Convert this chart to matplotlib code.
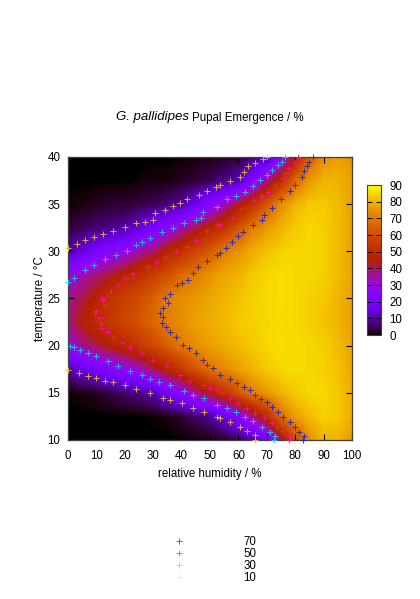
import numpy as np
import matplotlib
matplotlib.use("Agg")
import matplotlib.pyplot as plt

plt.rcParams['font.family'] = ['Liberation Sans', 'DejaVu Sans']

rh_values = list(range(0, 105, 5))
temp_values = [10, 12.5, 15, 17.5, 20, 22.5, 25, 27.5, 30, 32.5, 35, 37.5, 40]
emergence = [
    [0, 0, 0, 0, 0, 0, 0, 0, 0, 0.5, 1, 2, 4, 9, 20, 39, 60, 74, 80, 80, 76],
    [0, 0, 0, 0, 0, 0, 0.5, 1, 3, 6, 9, 16, 26, 37, 50, 68, 77, 81, 84, 83, 79],
    [0.5, 1, 2, 4, 6, 8, 11, 19, 27, 36, 44, 52, 62, 71, 76, 80, 83, 85, 85, 83, 79],
    [10, 15, 20, 24, 28, 32, 40, 47, 54, 62, 69, 73, 77, 80, 83, 85, 85.5, 85, 84, 82, 78],
    [30, 36, 41, 45, 49, 54, 59, 65, 70, 74, 77, 79, 81, 83, 85, 86, 85.5, 85, 84, 81, 78],
    [38, 45, 50, 54, 58, 62, 67, 71, 74, 77, 79, 81, 83, 84, 85, 85.5, 85, 84, 82, 80, 77],
    [36, 41, 47, 53, 57, 60, 65, 71, 74, 76, 78, 80, 82, 84, 85, 86, 85, 84, 83, 80, 77],
    [28, 34, 38, 42, 47, 51, 56, 61, 67, 71, 75, 78, 80, 83, 85, 86, 85, 85, 84, 81, 78],
    [11, 15, 21, 26, 29, 35, 39, 47, 52, 58, 64, 71, 75, 79, 82, 84, 85, 85, 84, 81, 77],
    [3, 5, 7, 8, 10, 15, 20, 27, 34, 41, 47, 53, 62, 71, 76, 80, 83, 85, 84, 81, 77],
    [1, 1, 2, 3, 3, 4, 5, 7, 10, 17, 25, 33, 43, 52, 63, 74, 80, 83, 83, 81, 77],
    [0, 0, 0, 0, 0, 0.5, 1, 1, 2, 3, 5, 8, 11, 23, 37, 50, 67, 76, 80, 80, 77],
    [0, 0, 0, 0, 0, 0, 0, 0, 0.5, 1, 1.5, 2, 3, 7, 10, 25, 46, 65, 74, 77, 75],
]

level70_rh = [82.6, 83, 81.5, 80, 78, 75.8, 74, 71.8, 70, 68, 66, 64, 62, 59.5, 57, 53.5, 51, 49, 47.6, 45, 42.5, 40.5, 38, 36, 34.5, 33, 33.5, 32.4, 33.5, 35.2, 34, 36, 38.3, 40, 42.3, 44, 45.8, 49, 52.4, 53.5, 55.5, 57.7, 60, 61.6, 65, 68.3, 69, 71.8, 75, 78, 80, 82.4, 83, 84, 85, 86.3]
level70_t = [10, 10.4, 10.9, 11.4, 11.9, 12.4, 13, 13.5, 14, 14.3, 14.8, 15.3, 15.6, 16, 16.5, 16.9, 17.6, 18, 18.5, 19.2, 19.7, 20.1, 20.9, 21.5, 22, 22.4, 23, 23.5, 24, 24.5, 25, 25.5, 26.4, 26.6, 27, 27.7, 28.3, 29, 29.6, 29.8, 30.4, 31, 31.6, 32, 32.8, 33.3, 33.8, 34.6, 35.5, 36.4, 37, 37.9, 38.5, 39, 39.5, 40]

level50_rh = [77.7, 78, 75.8, 73.5, 71.7, 69, 66, 63, 60, 57, 54, 52.4, 50, 47.6, 43, 39.4, 35, 30, 26, 22, 19, 16, 14, 12, 11.5, 11.3, 9.5, 10, 13, 12.3, 12, 15, 17.6, 20, 23, 27.7, 31, 34, 38, 42, 45, 49, 52.4, 53.5, 58, 61, 65, 68, 70.5, 73, 75.8, 76.5, 77.6, 80, 81]
level50_t = [10, 10.3, 11, 11.4, 11.8, 12.4, 12.9, 13.4, 13.9, 14.5, 15, 15.3, 15.5, 15.8, 16.3, 16.9, 17.8, 18.5, 19.2, 19.7, 20.3, 20.9, 21.4, 21.9, 22.4, 22.9, 23.5, 23.7, 24.3, 24.8, 25, 25.8, 26.4, 27.2, 27.6, 28.3, 28.9, 29.4, 30, 30.5, 31.2, 32.2, 32.8, 32.9, 33.5, 34.5, 35.4, 35.9, 36.3, 37, 37.8, 38.3, 38.8, 39.5, 40]

level30_rh = [72.6, 73, 71, 68.3, 65, 62.3, 59, 56, 52.4, 48, 44, 41, 36, 32, 29, 26, 22, 17.6, 14, 10, 7, 4.2, 2, 0.7, 0, 2, 6, 9, 13, 17, 20.6, 24, 26, 29, 33, 37, 41, 45, 47, 47.6, 52.4, 56, 59, 62.3, 65, 67.6, 70, 72, 74, 75.4, 76.5]
level30_t = [10, 10.4, 10.9, 11.4, 12, 12.4, 13, 13.4, 13.7, 14.4, 14.8, 15.2, 15.8, 16.2, 16.5, 16.9, 17.3, 17.8, 18.4, 18.9, 19.2, 19.5, 19.9, 20, 26.8, 27.2, 28, 28.6, 29.2, 29.6, 30, 30.7, 31, 31.4, 32, 32.5, 33, 33.3, 33.5, 34.2, 34.7, 35.5, 35.9, 36.3, 36.9, 37.6, 38.1, 38.6, 39.1, 39.5, 40]

level10_rh = [66, 66, 63, 60.5, 57, 53.5, 52.4, 48, 44, 40, 36, 33.5, 29, 24, 20, 16, 13, 10, 7, 4, 0, 0, 3, 6, 9, 12.4, 16, 20, 24, 27, 30, 30.6, 34, 37, 39.4, 42, 46, 49, 52, 53.5, 57, 60.5, 62, 63.5, 66, 68.6, 70]
level10_t = [10, 10.5, 11, 11.4, 11.9, 12.3, 12.4, 13, 13.4, 13.9, 14.2, 14.5, 15, 15.4, 15.8, 16.1, 16.3, 16.6, 16.8, 17.1, 17.4, 30.4, 30.8, 31.2, 31.5, 31.8, 32.2, 32.6, 33, 33.1, 33.3, 34.1, 34.4, 34.8, 35.1, 35.5, 36, 36.4, 36.8, 37, 37.5, 37.9, 38.4, 39, 39.4, 39.8, 40]

legend_labels = ['70', '50', '30', '10']
title_species = 'G. pallidipes'
title_rest = 'Pupal Emergence / %'

W, H = 420, 599
fig = plt.figure(figsize=(W / 100, H / 100), dpi=100)
ax = fig.add_axes([68 / W, 1 - 440 / H, 284 / W, 283 / H])

rh_step = rh_values[1] - rh_values[0]
t_step = temp_values[1] - temp_values[0]
ax.imshow(np.array(emergence), origin='lower', cmap='gnuplot', vmin=0, vmax=90,
          aspect='auto', interpolation='bilinear',
          extent=[rh_values[0] - rh_step / 2, rh_values[-1] + rh_step / 2,
                  temp_values[0] - t_step / 2, temp_values[-1] + t_step / 2])

series = [(level70_rh, level70_t, '#2020c8'),
          (level50_rh, level50_t, '#ff10a0'),
          (level30_rh, level30_t, '#20c8ff'),
          (level10_rh, level10_t, '#e8c828')]
handles = []
for (x, y, c), lab in zip(series, legend_labels):
    h, = ax.plot(x, y, ls='none', marker='+', ms=4.3, mew=0.75, color=c, alpha=0.85,
                 clip_on=False, label=lab, zorder=3)
    handles.append(h)

ax.set_xlim(0, 100)
ax.set_ylim(10, 40)
ax.set_xticks(range(0, 101, 10))
ax.set_yticks(range(10, 41, 5))
ax.tick_params(direction='in', top=True, right=True, length=4.5, width=0.8,
               labelsize=8.3, color='black')
ax.tick_params(axis='x', pad=7.5)
ax.tick_params(axis='y', pad=5.5)
for s in ax.spines.values():
    s.set_linewidth(0.9)
    s.set_color('#404040')
ax.set_xlabel('relative humidity / %', fontsize=8.3, labelpad=4)
ax.set_ylabel('temperature / °C', fontsize=8.3, labelpad=1)

fig.text(189 / W, 1 - 117 / H, title_species, style='italic', fontsize=9.5,
         ha='right', va='center')
fig.text(192 / W, 1 - 117.5 / H, title_rest, fontsize=8.3, ha='left', va='center')

cax = fig.add_axes([367 / W, 1 - 335 / H, 14 / W, 150 / H])
sm = plt.cm.ScalarMappable(norm=plt.Normalize(0, 90), cmap='gnuplot')
cb = fig.colorbar(sm, cax=cax, ticks=list(range(0, 91, 10)))
cb.ax.tick_params(direction='in', left=True, right=True, length=3.5, width=0.7,
                  labelsize=8.3, pad=6)
cb.outline.set_linewidth(0.8)
cb.outline.set_edgecolor('#404040')

legend_colors = ['#3030ff', '#ff20d0', '#20ffff', '#ffff20']
leg = fig.legend(handles=handles, labels=legend_labels, loc='upper left',
                 bbox_to_anchor=(172 / W, 1 - 536 / H), frameon=False, fontsize=8.3,
                 labelspacing=0.0, handlelength=1.2, handletextpad=5.0,
                 borderpad=0, borderaxespad=0)
for lh, c in zip(leg.get_lines(), legend_colors):
    lh.set_alpha(0.9)
    lh.set_color(c)
    lh.set_markeredgewidth(0.6)

fig.savefig('out.png', dpi=100)
